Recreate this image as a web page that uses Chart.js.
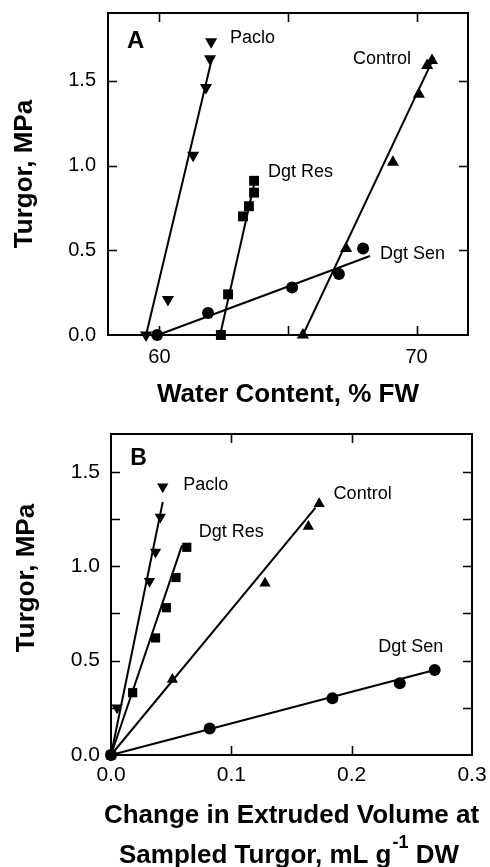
<!DOCTYPE html>
<html><head><meta charset="utf-8">
<script src="https://cdn.jsdelivr.net/npm/chart.js@4.4.0/dist/chart.umd.min.js"></script>
<style>
html,body{margin:0;padding:0;background:#fff;width:490px;height:867px;overflow:hidden}
canvas{position:absolute;left:0}
#ca{top:0}
#cb{top:420px}
</style></head><body>
<canvas id="ca" width="490" height="420"></canvas>
<canvas id="cb" width="490" height="447"></canvas>
<script>
// ---------- Panel A : Turgor vs Water Content ----------
const aPacloWC      = [62.01, 61.97, 61.81, 61.31, 60.33, 59.48];
const aPacloTurgor  = [1.73, 1.63, 1.46, 1.06, 0.21, 0.00];
const aPacloFitWC   = [59.48, 62.04];
const aPacloFitTurgor = [0, 1.63];

const aDgtResWC     = [63.68, 63.68, 63.48, 63.25, 62.67, 62.39];
const aDgtResTurgor = [0.91, 0.84, 0.76, 0.70, 0.24, 0.00];
const aDgtResFitWC  = [62.36, 63.72];
const aDgtResFitTurgor = [0, 0.915];

const aControlWC     = [70.60, 70.41, 70.09, 69.08, 67.26, 65.58];
const aControlTurgor = [1.62, 1.59, 1.42, 1.02, 0.51, 0.00];
const aControlFitWC  = [65.58, 70.68];
const aControlFitTurgor = [0, 1.64];

const aDgtSenWC     = [59.91, 61.89, 65.16, 66.98, 67.92];
const aDgtSenTurgor = [0.00, 0.13, 0.28, 0.36, 0.51];
const aDgtSenFitWC  = [59.94, 68.19];
const aDgtSenFitTurgor = [0, 0.466];

const aXTickLabels = [60, 70];
const aXTickMarks  = [60, 65, 70];
const aYTickLabels = [0, 0.5, 1.0, 1.5];
const aYTickMarks  = [0.5, 1.0, 1.5];

// ---------- Panel B : Turgor vs Change in extruded volume ----------
const bPacloVol     = [0, 0.005, 0.032, 0.037, 0.041, 0.043];
const bPacloTurgor  = [0, 0.25, 0.92, 1.075, 1.26, 1.42];
const bPacloFitVol  = [0, 0.043];
const bPacloFitTurgor = [0, 1.34];

const bDgtResVol    = [0, 0.018, 0.037, 0.046, 0.054, 0.063];
const bDgtResTurgor = [0, 0.33, 0.62, 0.78, 0.94, 1.10];
const bDgtResFitVol = [0, 0.059];
const bDgtResFitTurgor = [0, 1.11];

const bControlVol    = [0, 0.051, 0.128, 0.164, 0.173];
const bControlTurgor = [0, 0.40, 0.91, 1.21, 1.33];
const bControlFitVol = [0, 0.170];
const bControlFitTurgor = [0, 1.31];

const bDgtSenVol    = [0, 0.082, 0.184, 0.240, 0.269];
const bDgtSenTurgor = [0, 0.14, 0.30, 0.38, 0.45];
const bDgtSenFitVol = [0, 0.269];
const bDgtSenFitTurgor = [0, 0.45];

const bXTickLabels = [0, 0.1, 0.2, 0.3];
const bXTickMarks  = [0.1, 0.2];
const bYTickLabels = [0, 0.5, 1.0, 1.5];
const bYTickMarks  = [0.25, 0.5, 0.75, 1.0, 1.25, 1.5];

// ---------- helpers ----------
const FONT = "'Liberation Sans', Arial, Helvetica, sans-serif";
const pts = (xs, ys) => xs.map((v, i) => ({x: v, y: ys[i]}));

function markers(xs, ys, style, r, rot) {
  return {data: pts(xs, ys), showLine: false, pointStyle: style, pointRadius: r,
    pointHoverRadius: r, pointRotation: rot || 0, pointBackgroundColor: '#000',
    pointBorderColor: '#000', pointBorderWidth: 0, clip: false};
}
function fitLine(xs, ys) {
  return {data: pts(xs, ys), showLine: true, pointRadius: 0, borderColor: '#000',
    borderWidth: 2, clip: false};
}

const framePlugin = {
  id: 'frame',
  beforeDatasetsDraw(chart, args, o) {
    const {ctx, chartArea: ca, scales: {x, y}} = chart;
    ctx.save();
    ctx.strokeStyle = '#000';
    ctx.lineWidth = 2;
    ctx.strokeRect(ca.left, ca.top, ca.right - ca.left, ca.bottom - ca.top);
    ctx.lineWidth = 1.6;
    ctx.beginPath();
    o.xTicks.forEach(v => {
      const p = Math.round(x.getPixelForValue(v)) + 0.5;
      ctx.moveTo(p, ca.bottom); ctx.lineTo(p, ca.bottom - 9);
      ctx.moveTo(p, ca.top); ctx.lineTo(p, ca.top + 9);
    });
    o.yTicks.forEach(v => {
      const p = Math.round(y.getPixelForValue(v)) + 0.5;
      ctx.moveTo(ca.left, p); ctx.lineTo(ca.left + 9, p);
      ctx.moveTo(ca.right, p); ctx.lineTo(ca.right - 9, p);
    });
    ctx.stroke();
    ctx.restore();
  },
  afterDatasetsDraw(chart, args, o) {
    const {ctx, scales: {x, y}} = chart;
    ctx.save();
    ctx.fillStyle = '#000';
    ctx.textAlign = 'left';
    ctx.textBaseline = 'middle';
    o.labels.forEach(l => {
      ctx.font = (l.bold ? 'bold ' : '') + l.size + 'px ' + FONT;
      ctx.fillText(l.text, x.getPixelForValue(l.x), y.getPixelForValue(l.y));
    });
    ctx.restore();
  },
  afterDraw(chart, args, o) {
    if (!o.bTitles) return;
    const {ctx, chartArea: ca} = chart;
    ctx.save();
    ctx.fillStyle = '#000';
    // y title
    ctx.font = 'bold 26px ' + FONT;
    ctx.textAlign = 'center';
    ctx.textBaseline = 'middle';
    ctx.translate(27, 158);
    ctx.rotate(-Math.PI / 2);
    ctx.fillText('Turgor, MPa', 0, 0);
    ctx.setTransform(1, 0, 0, 1, 0, 0);
    // x title, two lines
    const cx = (ca.left + ca.right) / 2;
    ctx.textBaseline = 'alphabetic';
    ctx.textAlign = 'center';
    ctx.font = 'bold 26px ' + FONT;
    ctx.fillText('Change in Extruded Volume at', cx, 403);
    const p1 = 'Sampled Turgor, mL g', p2 = '-1', p3 = ' DW';
    ctx.textAlign = 'left';
    const w1 = ctx.measureText(p1).width, w3 = ctx.measureText(p3).width;
    ctx.font = 'bold 18px ' + FONT;
    const w2 = ctx.measureText(p2).width;
    let sx = cx - (w1 + w2 + w3) / 2 - 3;
    ctx.font = 'bold 26px ' + FONT;
    ctx.fillText(p1, sx, 443);
    ctx.font = 'bold 18px ' + FONT;
    ctx.fillText(p2, sx + w1 + 1, 428);
    ctx.font = 'bold 26px ' + FONT;
    ctx.fillText(p3, sx + w1 + w2 + 1, 443);
    ctx.restore();
  }
};
Chart.register(framePlugin);

function fixTicks(list) {
  return s => { s.ticks = list.map(v => ({value: v})); };
}

// ---------- Chart A ----------
new Chart(document.getElementById('ca'), {
  type: 'scatter',
  data: {datasets: [
    fitLine(aPacloFitWC, aPacloFitTurgor),
    fitLine(aDgtResFitWC, aDgtResFitTurgor),
    fitLine(aControlFitWC, aControlFitTurgor),
    fitLine(aDgtSenFitWC, aDgtSenFitTurgor),
    markers(aPacloWC, aPacloTurgor, 'triangle', 7, 180),
    markers(aDgtResWC, aDgtResTurgor, 'rect', 7),
    markers(aControlWC, aControlTurgor, 'triangle', 7),
    markers(aDgtSenWC, aDgtSenTurgor, 'circle', 6)
  ]},
  options: {
    responsive: false, animation: false, devicePixelRatio: 1,
    layout: {padding: {left: 0, right: 22, top: 13, bottom: 0}},
    plugins: {legend: {display: false}, tooltip: {enabled: false},
      frame: {xTicks: aXTickMarks, yTicks: aYTickMarks, labels: [
        {text: 'A', x: 58.74, y: 1.73, size: 24, bold: true},
        {text: 'Paclo', x: 62.74, y: 1.75, size: 18},
        {text: 'Dgt Res', x: 64.22, y: 0.96, size: 18},
        {text: 'Control', x: 67.53, y: 1.63, size: 18},
        {text: 'Dgt Sen', x: 68.58, y: 0.48, size: 18}
      ]}},
    scales: {
      x: {type: 'linear', min: 58, max: 72,
        grid: {display: false, drawTicks: false}, border: {display: false},
        afterBuildTicks: fixTicks(aXTickLabels),
        ticks: {padding: 10, color: '#000', font: {family: FONT, size: 20}, callback: v => String(v)},
        title: {display: true, text: 'Water Content, % FW', color: '#000',
          font: {family: FONT, size: 26, weight: 'bold'}, padding: {top: 0, bottom: 10}},
        afterFit: s => { s.height = 85; s.paddingLeft = 0; s.paddingRight = 0; }
      },
      y: {type: 'linear', min: 0, max: 1.9,
        grid: {display: false, drawTicks: false}, border: {display: false},
        afterBuildTicks: fixTicks(aYTickLabels),
        ticks: {padding: 12, color: '#000', font: {family: FONT, size: 20}, callback: v => v.toFixed(1)},
        title: {display: true, text: 'Turgor, MPa', color: '#000',
          font: {family: FONT, size: 26, weight: 'bold'}, padding: {top: 9, bottom: 0}},
        afterFit: s => { s.width = 108; s.paddingTop = 0; s.paddingBottom = 0; }
      }
    }
  }
});

// ---------- Chart B ----------
new Chart(document.getElementById('cb'), {
  type: 'scatter',
  data: {datasets: [
    fitLine(bPacloFitVol, bPacloFitTurgor),
    fitLine(bDgtResFitVol, bDgtResFitTurgor),
    fitLine(bControlFitVol, bControlFitTurgor),
    fitLine(bDgtSenFitVol, bDgtSenFitTurgor),
    markers(bPacloVol, bPacloTurgor, 'triangle', 6.5, 180),
    markers(bDgtResVol, bDgtResTurgor, 'rect', 6.5),
    markers(bControlVol, bControlTurgor, 'triangle', 6.5),
    markers(bDgtSenVol, bDgtSenTurgor, 'circle', 6)
  ]},
  options: {
    responsive: false, animation: false, devicePixelRatio: 1,
    layout: {padding: {left: 0, right: 18, top: 14, bottom: 0}},
    plugins: {legend: {display: false}, tooltip: {enabled: false},
      frame: {xTicks: bXTickMarks, yTicks: bYTickMarks, bTitles: true, labels: [
        {text: 'B', x: 0.016, y: 1.57, size: 23, bold: true},
        {text: 'Paclo', x: 0.060, y: 1.43, size: 18},
        {text: 'Dgt Res', x: 0.073, y: 1.18, size: 18},
        {text: 'Control', x: 0.185, y: 1.38, size: 18},
        {text: 'Dgt Sen', x: 0.222, y: 0.57, size: 18}
      ]}},
    scales: {
      x: {type: 'linear', min: 0, max: 0.3,
        grid: {display: false, drawTicks: false}, border: {display: false},
        afterBuildTicks: fixTicks(bXTickLabels),
        ticks: {padding: 8, color: '#000', font: {family: FONT, size: 21}, callback: v => v.toFixed(1)},
        afterFit: s => { s.height = 112; s.paddingLeft = 0; s.paddingRight = 0; }
      },
      y: {type: 'linear', min: 0, max: 1.7,
        grid: {display: false, drawTicks: false}, border: {display: false},
        afterBuildTicks: fixTicks(bYTickLabels),
        ticks: {padding: 11, color: '#000', font: {family: FONT, size: 21}, callback: v => v.toFixed(1)},
        afterFit: s => { s.width = 111; s.paddingTop = 0; s.paddingBottom = 0; }
      }
    }
  }
});
</script>
</body></html>
